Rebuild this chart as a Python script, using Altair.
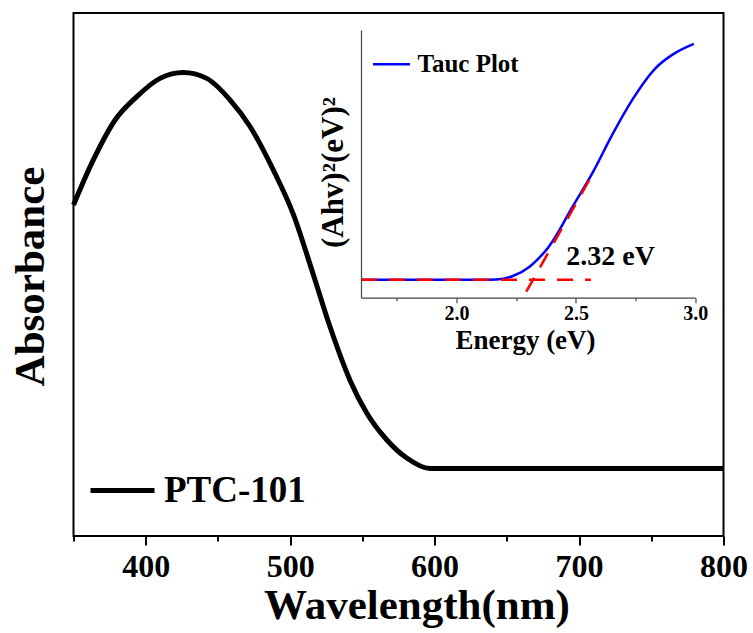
import altair as alt
import pandas as pd

FONT = "Liberation Serif"

# ---- main absorbance spectrum ----
wavelength = [350, 363.7, 378.7, 393.8, 409.9, 426.0, 442.2, 458.3, 472.2, 488.3,
              502.2, 516.0, 527.6, 541.4, 553.0, 566.8, 580.7, 596.8,
              650, 700, 750, 800]
absorbance = [0.633, 0.719, 0.795, 0.840, 0.875, 0.886, 0.875, 0.834, 0.783, 0.700,
              0.615, 0.500, 0.400, 0.298, 0.235, 0.184, 0.149, 0.129,
              0.129, 0.129, 0.129, 0.129]
main_series = "PTC-101"

# ---- inset Tauc plot ----
energy = [1.60, 1.80, 2.00, 2.10, 2.167, 2.236, 2.306, 2.347, 2.375, 2.403, 2.486,
          2.569, 2.653, 2.736, 2.833, 2.903, 2.994]
tauc = [0.067, 0.067, 0.067, 0.067, 0.068, 0.081, 0.116, 0.150, 0.177, 0.212, 0.340,
        0.465, 0.610, 0.739, 0.857, 0.907, 0.948]
inset_series = "Tauc Plot"

# fitted dashed lines (baseline and tangent)
fit_seg = ["base", "base", "tan", "tan"]
fit_E = [1.60, 2.5625, 2.292, 2.576]
fit_v = [0.067, 0.067, 0.0224, 0.471]

note_E = [2.46]
note_v = [0.122]
note_txt = ["2.32 eV"]

df_main = pd.DataFrame({"wl": wavelength, "ab": absorbance, "series": main_series})
df_tauc = pd.DataFrame({"E": energy, "v": tauc, "label": inset_series})
df_fit = pd.DataFrame({"E": fit_E, "v": fit_v, "seg": fit_seg})
df_note = pd.DataFrame({"E": note_E, "v": note_v, "txt": note_txt})

W, H = 650, 523

main = alt.Chart(df_main).mark_line(strokeWidth=5, interpolate="monotone").encode(
    x=alt.X("wl:Q",
            scale=alt.Scale(domain=[350, 800], nice=False, zero=False),
            axis=alt.Axis(
                orient="bottom", values=list(range(350, 801, 50)),
                labelExpr="datum.value % 100 === 0 ? datum.label : ''",
                tickSize={"condition": {"test": "datum.value % 100 === 0", "value": 9}, "value": 5},
                tickWidth=2, tickColor="black", domain=False, grid=False,
                labelFont=FONT, labelFontSize=32, labelFontWeight="bold", labelColor="black",
                labelPadding=6, labelFlush=False, labelOverlap=False,
                title="Wavelength(nm)", titleFont=FONT, titleFontSize=43,
                titleFontWeight="bold", titleColor="black",
                titleX=343, titleY=82, titleBaseline="alphabetic", titleAlign="center")),
    y=alt.Y("ab:Q",
            scale=alt.Scale(domain=[0, 1], nice=False, zero=False),
            axis=alt.Axis(
                orient="left", domain=False, ticks=False, labels=False, grid=False,
                title="Absorbance", titleFont=FONT, titleFontSize=43,
                titleFontWeight="bold", titleColor="black",
                titleX=-30.5, titleY=263, titleAngle=270,
                titleBaseline="alphabetic", titleAlign="center")),
    color=alt.Color("series:N",
                    scale=alt.Scale(domain=[main_series], range=["black"]),
                    legend=alt.Legend(orient="none", legendX=14.5, legendY=443,
                                      symbolType="stroke", symbolSize=4096,
                                      symbolStrokeWidth=5, labelFont=FONT,
                                      labelFontSize=37, labelFontWeight="bold",
                                      labelColor="black", labelOffset=7,
                                      padding=0, title=None)),
)

xs_in = alt.Scale(domain=[1.6, 3.0], range=[287.5, 621.8], nice=False, zero=False)
ys_in = alt.Scale(domain=[0, 1], range=[284.7, 17], nice=False, zero=False)

blue = alt.Chart(df_tauc).mark_line(strokeWidth=2.5, interpolate="monotone").encode(
    x=alt.X("E:Q", scale=xs_in,
            axis=alt.Axis(
                orient="bottom", offset=-238.3,
                values=[1.75, 2.0, 2.25, 2.5, 2.75, 3.0],
                labelExpr="datum.value % 0.5 === 0 ? datum.label : ''",
                format=".1f",
                tickSize={"condition": {"test": "datum.value % 0.5 === 0", "value": 5}, "value": 3},
                tickWidth=1.2, tickColor="#444", domainColor="#444", domainWidth=1.2,
                grid=False, labelFont=FONT, labelFontSize=20, labelFontWeight="bold",
                labelColor="black", labelPadding=1, labelFlush=False, labelOverlap=False,
                title="Energy (eV)", titleFont=FONT, titleFontSize=27,
                titleFontWeight="bold", titleColor="black",
                titleX=451.5, titleY=51, titleBaseline="alphabetic", titleAlign="center")),
    y=alt.Y("v:Q", scale=ys_in,
            axis=alt.Axis(
                orient="left", offset=-287.5, ticks=False, labels=False, grid=False,
                domainColor="#444", domainWidth=1.2,
                title="(Ahv)²(eV)²", titleFont=FONT, titleFontSize=31,
                titleFontWeight="bold", titleColor="black",
                titleX=-19, titleY=159, titleAngle=270,
                titleBaseline="alphabetic", titleAlign="center")),
    color=alt.Color("label:N",
                    scale=alt.Scale(domain=[inset_series], range=["#0000ff"]),
                    legend=alt.Legend(orient="none", legendX=298, legendY=31.2,
                                      symbolType="stroke", symbolSize=1369,
                                      symbolStrokeWidth=2.5, labelFont=FONT,
                                      labelFontSize=25, labelFontWeight="bold",
                                      labelColor="black", labelOffset=6,
                                      padding=0, title=None)),
)

red = alt.Chart(df_fit).mark_line(strokeWidth=2.5, color="#ff0000", strokeDash=[16, 12]).encode(
    x=alt.X("E:Q", scale=xs_in),
    y=alt.Y("v:Q", scale=ys_in),
    detail="seg:N",
)

note = alt.Chart(df_note).mark_text(align="left", baseline="alphabetic", font=FONT,
                                    fontSize=28, fontWeight="bold", color="black").encode(
    x=alt.X("E:Q", scale=xs_in),
    y=alt.Y("v:Q", scale=ys_in),
    text="txt:N",
)

inset = alt.layer(blue, red, note)

chart = alt.layer(main, inset).resolve_scale(
    x="independent", y="independent", color="independent"
).resolve_axis(
    x="independent", y="independent"
).resolve_legend(
    color="independent"
).properties(
    width=W, height=H,
    autosize=alt.AutoSizeParams(type="none"),
    padding={"left": 73.5, "top": 13, "right": 29.5, "bottom": 97},
    background="white",
).configure_view(
    stroke="black", strokeWidth=2
)

chart.save("out.html", embed_options={"renderer": "svg", "actions": False})
